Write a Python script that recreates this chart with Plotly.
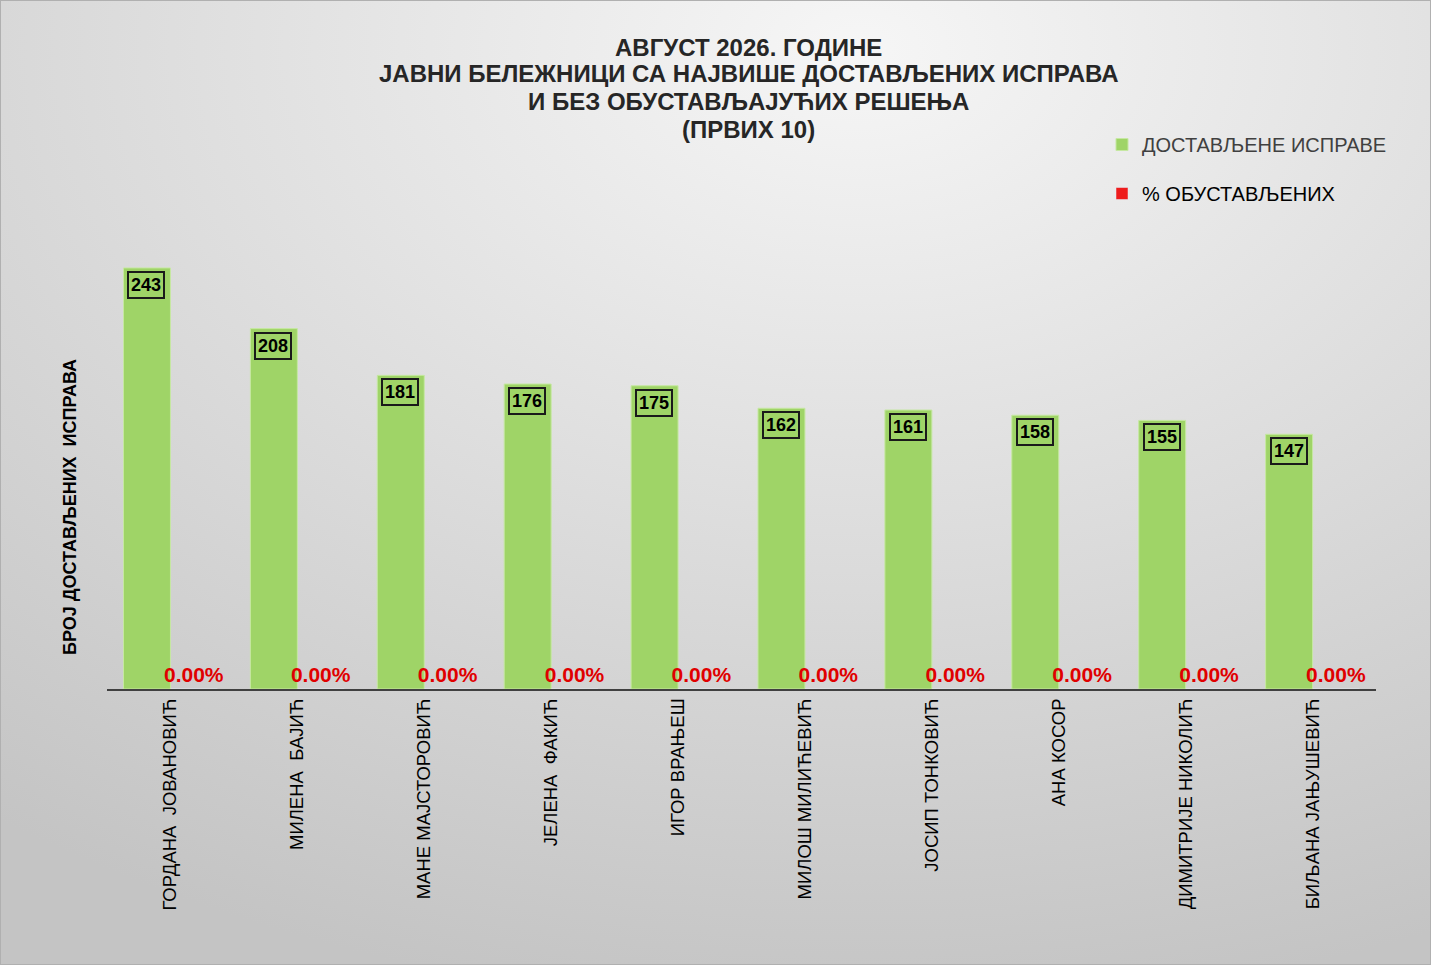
import base64
import plotly.graph_objects as go

names = ["ГОРДАНА  ЈОВАНОВИЋ", "МИЛЕНА  БАЈИЋ", "МАНЕ МАЈСТОРОВИЋ", "ЈЕЛЕНА  ФАКИЋ",
         "ИГОР ВРАЊЕШ", "МИЛОШ МИЛИЋЕВИЋ", "ЈОСИП ТОНКОВИЋ", "АНА КОСОР",
         "ДИМИТРИЈЕ НИКОЛИЋ", "БИЉАНА ЈАЊУШЕВИЋ"]
documents = [243, 208, 181, 176, 175, 162, 161, 158, 155, 147]
pct_suspended = [0, 0, 0, 0, 0, 0, 0, 0, 0, 0]
title_lines = ["АВГУСТ 2026. ГОДИНЕ",
               "ЈАВНИ БЕЛЕЖНИЦИ СА НАЈВИШЕ ДОСТАВЉЕНИХ ИСПРАВА",
               "И БЕЗ ОБУСТАВЉАЈУЋИХ РЕШЕЊА",
               "(ПРВИХ 10)"]

W, H = 1431, 965
ML, MR, MT, MB = 107, 55, 200, 276
PW, PH = W - ML - MR, H - MT - MB
ymax = 282.2
FONT = "Liberation Sans, Arial, sans-serif"


def px_to_paper_y(py):
    return (MT + PH - py) / PH


def px_to_paper_x(px):
    return (px - ML) / PW


svg = (f'<svg xmlns="http://www.w3.org/2000/svg" width="{W}" height="{H}">'
       '<defs><radialGradient id="g" cx="0.6" cy="0.05" r="1.0">'
       '<stop offset="0" stop-color="#f6f6f6"/><stop offset="1" stop-color="#c4c4c4"/>'
       '</radialGradient></defs><rect width="100%" height="100%" fill="url(#g)" '
       'stroke="#b0b0b0" stroke-width="2"/></svg>')
src = "data:image/svg+xml;base64," + base64.b64encode(svg.encode()).decode()

fig = go.Figure()
fig.add_trace(go.Bar(
    x=names, y=documents,
    name="<span style='color:#404040'>ДОСТАВЉЕНЕ ИСПРАВЕ</span>",
    marker=dict(color="#9fd467", line=dict(color="#c6e8a2", width=1)),
    legendgroup="a", hoverinfo="skip",
))
fig.add_trace(go.Bar(
    x=names, y=pct_suspended, name="% ОБУСТАВЉЕНИХ",
    marker=dict(color="#ee1c1c"),
    text=[f"{v:.2f}%" for v in pct_suspended], textposition="outside",
    constraintext="none", cliponaxis=False,
    textfont=dict(color="#e00000", size=21, family=FONT, weight="bold"),
    legendgroup="b", hoverinfo="skip",
))

annotations = []
for n, v in zip(names, documents):
    annotations.append(dict(
        x=n, y=v, xref="x", yref="y", text=f"<b>{v}</b>", showarrow=False,
        xshift=-24, yshift=-3, yanchor="top", xanchor="center",
        font=dict(size=18, color="#000000", family=FONT),
        bordercolor="#1a1a1a", borderwidth=2, borderpad=2, bgcolor="rgba(0,0,0,0)",
    ))
annotations.append(dict(
    text="<b>БРОЈ ДОСТАВЉЕНИХ  ИСПРАВА</b>", textangle=-90, showarrow=False,
    xref="paper", yref="paper", x=px_to_paper_x(70), y=px_to_paper_y(507),
    xanchor="center", yanchor="middle",
    font=dict(size=18, color="#000000", family=FONT),
))
for line, cy in zip(title_lines, [47, 74, 101, 129]):
    annotations.append(dict(
        text=f"<b>{line}</b>", showarrow=False, xref="paper", yref="paper",
        x=px_to_paper_x(749), y=px_to_paper_y(cy), xanchor="center", yanchor="middle",
        font=dict(size=24, color="#262626", family=FONT),
    ))

fig.update_layout(
    width=W, height=H,
    margin=dict(l=ML, r=MR, t=MT, b=MB, autoexpand=False),
    paper_bgcolor="#dedede", plot_bgcolor="rgba(0,0,0,0)",
    barmode="group", bargap=0.26, bargroupgap=0,
    legend=dict(
        x=px_to_paper_x(1102), y=px_to_paper_y(125), xanchor="left", yanchor="top",
        font=dict(size=20, color="#000000", family=FONT),
        bgcolor="rgba(0,0,0,0)", tracegroupgap=20, itemwidth=30,
    ),
    xaxis=dict(
        showline=True, linecolor="#404040", linewidth=2, showgrid=False,
        tickangle=-90, ticks="", ticklen=0,
        tickfont=dict(size=18.5, color="#000000", family=FONT),
        fixedrange=True,
    ),
    yaxis=dict(range=[0, ymax], showticklabels=False, showgrid=False, zeroline=False,
               showline=False, fixedrange=True),
    annotations=annotations,
    images=[dict(source=src, xref="paper", yref="paper",
                 x=-ML / PW, y=1 + MT / PH, sizex=W / PW, sizey=H / PH,
                 xanchor="left", yanchor="top", sizing="stretch", layer="below")],
    showlegend=True,
)

fig.write_html(
    "out.html",
    config={"displayModeBar": False},
    post_script="document.body.style.margin='0';document.documentElement.style.overflow='hidden';",
)
